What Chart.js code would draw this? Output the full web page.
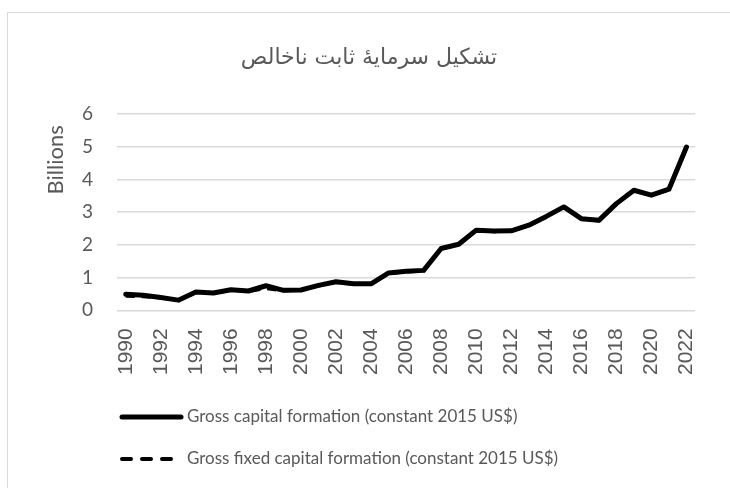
<!DOCTYPE html>
<html lang="fa">
<head>
  <meta charset="UTF-8">
  <title>Gross capital formation</title>
  <script src="https://cdn.jsdelivr.net/npm/chart.js"></script>
  <style>
    body { margin: 0; background: #ffffff; overflow: hidden; }
    #frame {
      position: absolute; left: 7px; top: 12px;
      width: 760px; height: 520px;
      border: 1px solid #d9d9d9;
    }
    #chart-container { position: absolute; left: 0; top: 0; width: 730px; height: 488px; }
  </style>
</head>
<body>
<div id="frame"></div>
<div id="chart-container">
  <canvas id="gcfChart" width="730" height="488"></canvas>
</div>
<script>
  // Dane (w miliardach USD, stałe ceny 2015)
  const years = [];
  for (let y = 1990; y <= 2022; y++) years.push(String(y));

  const grossCapital = [0.49, 0.46, 0.39, 0.31, 0.56, 0.53, 0.63, 0.59, 0.75, 0.61,
    0.62, 0.76, 0.87, 0.81, 0.81, 1.14, 1.19, 1.22, 1.89, 2.02,
    2.45, 2.42, 2.43, 2.60, 2.87, 3.16, 2.80, 2.75, 3.26, 3.67,
    3.52, 3.70, 4.99];

  const grossFixedCapital = [0.44, 0.42, 0.38, 0.31, 0.55, 0.52, 0.62, 0.58, 0.67, 0.60,
    0.62, 0.75, 0.86, 0.80, 0.80, 1.13, 1.18, 1.21, 1.88, 2.01,
    2.44, 2.41, 2.42, 2.59, 2.86, 3.15, 2.79, 2.74, 3.25, 3.66,
    3.51, 3.69, 4.98];

  const titleText = 'تشکیل سرمایۀ ثابت ناخالص';
  const seriesNames = [
    'Gross capital formation (constant 2015 US$)',
    'Gross fixed capital formation (constant 2015 US$)'
  ];

  const FONT = 'Lato, "Open Sans", sans-serif';
  const GREY = '#595959';

  // Legenda rysowana ręcznie (dwa wiersze, wyrównane do lewej)
  const legendPlugin = {
    id: 'bottomLegend',
    afterDraw(chart) {
      const ctx = chart.ctx;
      const rows = [417, 459];
      chart.data.datasets.forEach((ds, i) => {
        const y = rows[i];
        ctx.save();
        ctx.strokeStyle = ds.borderColor;
        ctx.lineWidth = i === 0 ? 5 : 4;
        ctx.lineCap = 'round';
        if (i === 1) ctx.setLineDash([9, 11]);
        ctx.beginPath();
        ctx.moveTo(122, y);
        ctx.lineTo(181, y);
        ctx.stroke();
        ctx.setLineDash([]);
        ctx.fillStyle = GREY;
        ctx.font = '17px ' + FONT;
        ctx.textBaseline = 'middle';
        ctx.fillText(ds.label, 187, y);
        ctx.restore();
      });
    }
  };

  const ctx = document.getElementById('gcfChart').getContext('2d');
  new Chart(ctx, {
    type: 'line',
    data: {
      labels: years,
      datasets: [
        { label: seriesNames[0], data: grossCapital, borderColor: '#000000', borderWidth: 5,
          pointRadius: 0, fill: false, tension: 0, borderJoinStyle: 'round', borderCapStyle: 'round' },
        { label: seriesNames[1], data: grossFixedCapital, borderColor: '#000000', borderWidth: 3.5,
          borderDash: [9, 7], pointRadius: 0, fill: false, tension: 0 }
      ]
    },
    options: {
      responsive: false,
      animation: false,
      devicePixelRatio: 1,
      layout: { padding: { left: 30, right: 22, top: 10, bottom: 95 } },
      plugins: {
        legend: { display: false },
        tooltip: { enabled: false },
        title: {
          display: true,
          text: titleText,
          color: GREY,
          font: { family: '"DejaVu Sans", sans-serif', size: 22, weight: 'normal' },
          padding: { top: 35, bottom: 42.6 }
        }
      },
      scales: {
        x: {
          offset: true,
          grid: { display: false, drawTicks: false },
          border: { display: false },
          ticks: {
            color: GREY,
            font: { family: '"Liberation Sans", Arial, sans-serif', size: 21 },
            autoSkip: false,
            minRotation: 90,
            maxRotation: 90,
            padding: 18,
            callback: function (val, idx) { return idx % 2 === 0 ? this.getLabelForValue(val) : ''; }
          }
        },
        y: {
          min: 0,
          max: 6,
          afterFit: (scale) => { scale.width = 87; },
          grid: { color: '#d9d9d9', lineWidth: 1.5, drawTicks: false },
          border: { display: false },
          ticks: { stepSize: 1, color: GREY, font: { family: FONT, size: 19 }, padding: 24 },
          title: { display: true, text: 'Billions  ', align: 'end', color: GREY,
            font: { family: FONT, size: 22 }, padding: { top: 13, bottom: 0 } }
        }
      }
    },
    plugins: [legendPlugin]
  });
</script>
</body>
</html>
